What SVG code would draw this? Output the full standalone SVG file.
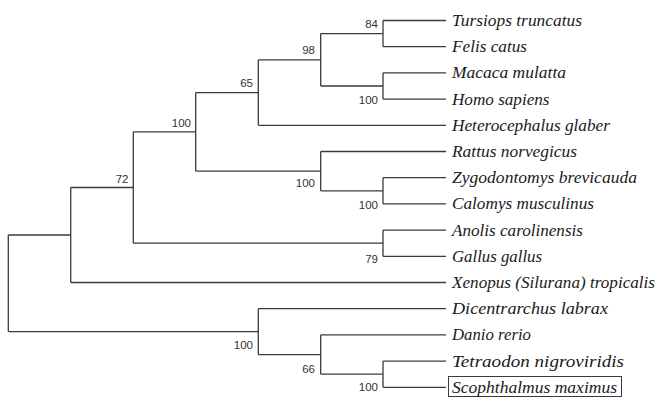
<svg xmlns="http://www.w3.org/2000/svg" width="656" height="401" viewBox="0 0 656 401">
<style>
.br{fill:none;stroke:#3a3a3a;stroke-width:1.3}
.sp{font-family:"Liberation Serif","Times New Roman",serif;font-style:italic;font-size:17px;fill:#1a1a1a}
.bs{font-family:"Liberation Sans",Arial,sans-serif;font-size:11.5px;fill:#333;text-anchor:end}
</style>
<rect width="656" height="401" fill="#fff"/>
<g id="connectors" class="br">
<path d="M383 20.5H446M383 46.7H446M383 20.5V46.7"/>
<path d="M383 72.9H446M383 99.1H446M383 72.9V99.1"/>
<path d="M320.7 33.6H383M320.7 86H383M320.7 33.6V86"/>
<path d="M258.3 59.8H320.7M258.3 125.3H446M258.3 59.8V125.3"/>
<path d="M383 177.7H446M383 203.9H446M383 177.7V203.9"/>
<path d="M320.7 151.5H446M320.7 190.8H383M320.7 151.5V190.8"/>
<path d="M195.7 92.6H258.3M195.7 171.2H320.7M195.7 92.6V171.2"/>
<path d="M383 230.1H446M383 256.3H446M383 230.1V256.3"/>
<path d="M133.3 131.9H195.7M133.3 243.2H383M133.3 131.9V243.2"/>
<path d="M70.7 187.5H133.3M70.7 282.5H446M70.7 187.5V282.5"/>
<path d="M383 361.1H446M383 387.3H446M383 361.1V387.3"/>
<path d="M320.7 334.9H446M320.7 374.2H383M320.7 334.9V374.2"/>
<path d="M258.3 308.7H446M258.3 354.6H320.7M258.3 308.7V354.6"/>
<path d="M8.3 235H70.7M8.3 331.6H258.3M8.3 235V331.6"/>
</g>
<g id="bootstrap">
<g id="n84"><text class="bs" x="378" y="28">84</text></g>
<g id="n98"><text class="bs" x="315" y="54">98</text></g>
<g id="n65"><text class="bs" x="253" y="87">65</text></g>
<g id="n100a"><text class="bs" x="191" y="127">100</text></g>
<g id="n72"><text class="bs" x="128.5" y="183">72</text></g>
<g id="n100b"><text class="bs" x="378" y="103.5">100</text></g>
<g id="n100c"><text class="bs" x="315" y="187">100</text></g>
<g id="n100d"><text class="bs" x="378" y="208.5">100</text></g>
<g id="n79"><text class="bs" x="378" y="262.5">79</text></g>
<g id="n100e"><text class="bs" x="253" y="349">100</text></g>
<g id="n66"><text class="bs" x="315" y="372.5">66</text></g>
<g id="n100f"><text class="bs" x="378" y="391">100</text></g>
</g>
<g id="leaves">
<g id="tursiops"><text class="sp" x="452" y="26" textLength="130" lengthAdjust="spacingAndGlyphs">Tursiops truncatus</text></g>
<g id="felis"><text class="sp" x="452" y="52.2" textLength="75" lengthAdjust="spacingAndGlyphs">Felis catus</text></g>
<g id="macaca"><text class="sp" x="452" y="78.4" textLength="114" lengthAdjust="spacingAndGlyphs">Macaca mulatta</text></g>
<g id="homo"><text class="sp" x="452" y="104.6" textLength="97.5" lengthAdjust="spacingAndGlyphs">Homo sapiens</text></g>
<g id="heterocephalus"><text class="sp" x="452" y="130.8" textLength="158" lengthAdjust="spacingAndGlyphs">Heterocephalus glaber</text></g>
<g id="rattus"><text class="sp" x="452" y="157" textLength="125" lengthAdjust="spacingAndGlyphs">Rattus norvegicus</text></g>
<g id="zygodontomys"><text class="sp" x="452" y="183.2" textLength="185" lengthAdjust="spacingAndGlyphs">Zygodontomys brevicauda</text></g>
<g id="calomys"><text class="sp" x="452" y="209.4" textLength="142" lengthAdjust="spacingAndGlyphs">Calomys musculinus</text></g>
<g id="anolis"><text class="sp" x="452" y="235.6" textLength="131" lengthAdjust="spacingAndGlyphs">Anolis carolinensis</text></g>
<g id="gallus"><text class="sp" x="452" y="261.8" textLength="90" lengthAdjust="spacingAndGlyphs">Gallus gallus</text></g>
<g id="xenopus"><text class="sp" x="452" y="288" textLength="203" lengthAdjust="spacingAndGlyphs">Xenopus (Silurana) tropicalis</text></g>
<g id="dicentrarchus"><text class="sp" x="452" y="314.2" textLength="156" lengthAdjust="spacingAndGlyphs">Dicentrarchus labrax</text></g>
<g id="danio"><text class="sp" x="452" y="340.4" textLength="79" lengthAdjust="spacingAndGlyphs">Danio rerio</text></g>
<g id="tetraodon"><text class="sp" x="452" y="366.6" textLength="172" lengthAdjust="spacingAndGlyphs">Tetraodon nigroviridis</text></g>
<g id="scophthalmus"><rect x="448.5" y="376.5" width="173" height="20" fill="none" stroke="#3a3a3a" stroke-width="1"/><text class="sp" x="452" y="392.8" textLength="165" lengthAdjust="spacingAndGlyphs">Scophthalmus maximus</text></g>
</g>
</svg>
